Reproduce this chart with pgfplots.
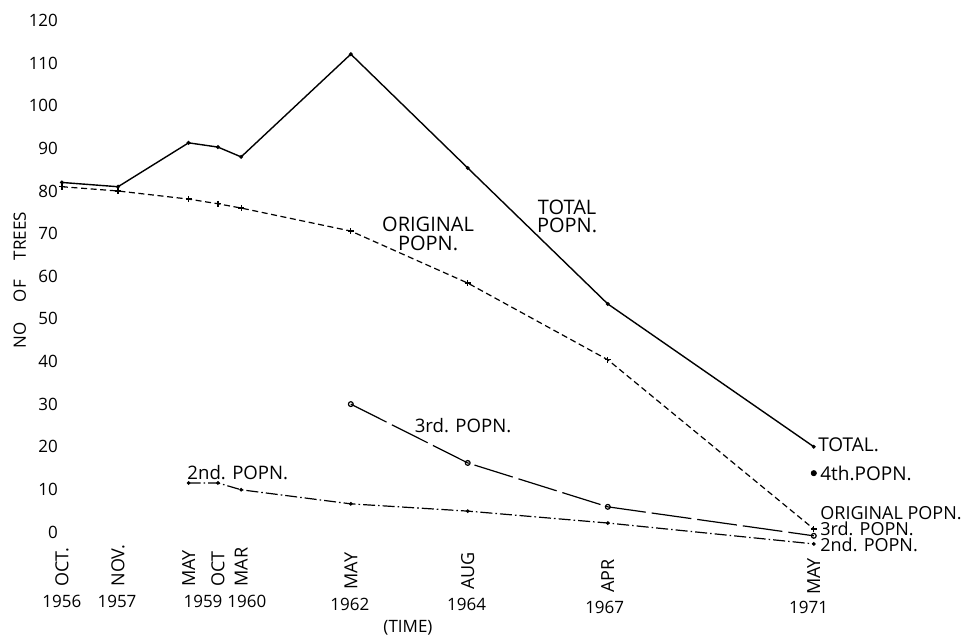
\documentclass[border=0pt]{standalone}
\usepackage{pgfplots}
\pgfplotsset{compat=1.18}
\usepackage{fontspec}
\setmainfont{Open Sans}
\begin{document}
\begin{tikzpicture}[font=\fontsize{8.5}{9}\selectfont]
\begin{axis}[
  name=ax,
  scale only axis, width=400.4pt, height=266.4pt,
  xmin=1956.85, xmax=1972.4, ymin=-5, ymax=120,
  axis line style={draw=none},
  major tick length=0pt,
  xtick=\empty,
  ytick={0,10,...,120},
  ticklabel style={font=\fontsize{8.5}{9}\selectfont},
  /pgf/number format/assume math mode=true,
  clip=false,
]
% TOTAL POPN.
\addplot[black, line width=0.7pt, mark=*, mark size=0.6pt] coordinates {
 (1956.79,82) (1957.88,81) (1959.25,91.3) (1959.82,90.3) (1960.27,88)
 (1962.40,112.1) (1964.67,85.4) (1967.39,53.5) (1971.39,20)};
% ORIGINAL POPN.
\addplot[black, line width=0.6pt, dash pattern=on 3pt off 1.8pt, mark=+, mark size=1.5pt, mark options={solid}] coordinates {
 (1956.79,81) (1957.88,80) (1959.25,78.1) (1959.82,77) (1960.27,76)
 (1962.40,70.6) (1964.67,58.4) (1967.39,40.4) (1971.39,0.7)};
% 3rd POPN.
\addplot[black, line width=0.6pt, dash pattern=on 20pt off 3pt, mark=o, mark size=1.2pt, mark options={solid}] coordinates {
 (1962.40,30) (1964.67,16.2) (1967.39,5.9) (1971.39,-0.9)};
% 2nd POPN.
\addplot[black, line width=0.6pt, dash pattern=on 6pt off 1.5pt on 0.8pt off 1.5pt, mark=*, mark size=0.6pt, mark options={solid}] coordinates {
 (1959.25,11.5) (1959.82,11.5) (1960.27,9.9) (1962.40,6.6) (1964.67,4.9) (1967.39,2.1) (1971.39,-2.8)};
% 4th POPN.
\addplot[black, only marks, mark=*, mark size=1.3pt] coordinates {(1971.39,13.8)};

% series labels
\node[align=center, font=\fontsize{10}{9.2}\selectfont] at (axis cs:1966.60,74.1) {TOTAL\\POPN.};
\node[align=center, font=\fontsize{10}{9.2}\selectfont] at (axis cs:1963.90,69.9) {ORIGINAL\\POPN.};
\node[font=\fontsize{9.3}{10}\selectfont] at (axis cs:1964.58,24.9) {3rd. POPN.};
\node[anchor=west, inner sep=0pt, font=\fontsize{9.3}{10}\selectfont] at (axis cs:1959.22,14.0) {2nd. POPN.};
\node[anchor=west, inner sep=0pt, font=\fontsize{9.5}{10}\selectfont] at (axis cs:1971.47,20.4) {TOTAL.};
\node[anchor=west, inner sep=0pt, font=\fontsize{9.5}{10}\selectfont] at (axis cs:1971.51,13.8) {4th.POPN.};
\node[anchor=west, inner sep=0pt, font=\fontsize{9}{9}\selectfont] at (axis cs:1971.51,4.4) {ORIGINAL POPN.};
\node[anchor=west, inner sep=0pt, font=\fontsize{9}{9}\selectfont] at (axis cs:1971.51,0.75) {3rd. POPN.};
\node[anchor=west, inner sep=0pt, font=\fontsize{9}{9}\selectfont] at (axis cs:1971.51,-2.9) {2nd. POPN.};

% month labels
\begin{scope}[every node/.style={rotate=90, anchor=west, inner sep=0pt, font=\fontsize{9}{9}\selectfont}]
\node at (axis cs:1956.79,-12.9) {OCT.};
\node at (axis cs:1957.88,-12.9) {NOV.};
\node at (axis cs:1959.25,-12.9) {MAY};
\node at (axis cs:1959.82,-12.9) {OCT};
\node at (axis cs:1960.27,-12.9) {MAR};
\node at (axis cs:1962.40,-13.6) {MAY};
\node at (axis cs:1964.67,-13.6) {AUG};
\node at (axis cs:1967.39,-14.3) {APR};
\node at (axis cs:1971.39,-14.8) {MAY};
\end{scope}
% year labels
\node at (axis cs:1956.79,-16.3) {1956};
\node at (axis cs:1957.86,-16.3) {1957};
\node at (axis cs:1959.53,-16.3) {1959};
\node at (axis cs:1960.38,-16.3) {1960};
\node at (axis cs:1962.38,-17.1) {1962};
\node at (axis cs:1964.65,-16.9) {1964};
\node at (axis cs:1967.33,-17.6) {1967};
\node at (axis cs:1971.29,-17.8) {1971};
% axis titles
\node at (axis cs:1963.51,-22.5) {(TIME)};
\node[rotate=90] at (axis cs:1955.97,59.1) {NO\hspace{10pt}OF\hspace{10pt}TREES};
\end{axis}
\pgfresetboundingbox
\path[use as bounding box] (ax.south west) ++(-32.5pt,-41.85pt) rectangle ++(488pt,318.5pt);
\end{tikzpicture}
\end{document}
